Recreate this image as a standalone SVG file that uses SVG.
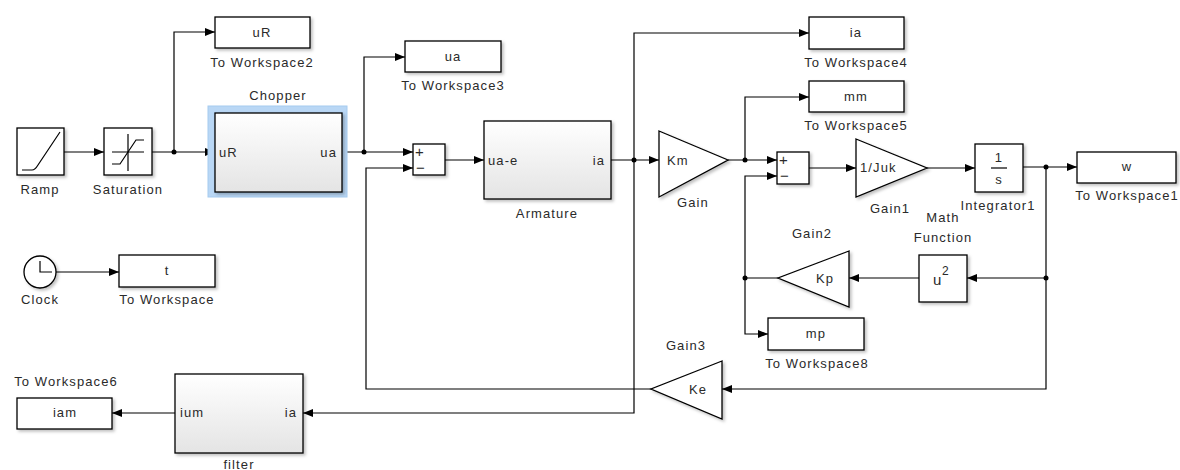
<svg xmlns="http://www.w3.org/2000/svg" width="1180" height="470" viewBox="0 0 1180 470">
<style>
text{font-family:"Liberation Sans",Arial,sans-serif;font-size:13px;fill:#2a2a2a;letter-spacing:1.1px}
.c{text-anchor:middle}
.e{text-anchor:end}
.blk{fill:#fff;stroke:#000;stroke-width:1.3;filter:url(#sh)}
.sub{fill:url(#g);stroke:#000;stroke-width:1.3;filter:url(#sh)}
.ic{fill:none;stroke:#000;stroke-width:1.2}
.ar{fill:none;stroke:#000;stroke-width:1.2;marker-end:url(#ah)}
.dot{fill:#000}
.sg{font-size:15px;letter-spacing:0}
</style>
<defs>
<marker id="ah" markerUnits="userSpaceOnUse" markerWidth="10" markerHeight="10" refX="10" refY="5" orient="auto">
<path d="M0,1 L10,5 L0,9 z" fill="#000"/>
</marker>
<linearGradient id="g" x1="0" y1="0" x2="0" y2="1">
<stop offset="0" stop-color="#ffffff"/>
<stop offset="1" stop-color="#e4e4e4"/>
</linearGradient>
<filter id="sh" x="-10%" y="-10%" width="130%" height="140%">
<feDropShadow dx="2" dy="2" stdDeviation="1.5" flood-color="#000" flood-opacity="0.25"/>
</filter>
</defs>
<rect width="1180" height="470" fill="#fff"/>

<g id="connectors">
<path class="ar" d="M64,152 L104,152"/>
<path class="ar" d="M152,152 L215,152"/>
<path class="ar" d="M174,152 L174,32 L215,32"/>
<path class="ar" d="M342,152 L413,152"/>
<path class="ar" d="M364,152 L364,57 L405,57"/>
<path class="ar" d="M445,160 L484,160"/>
<path class="ar" d="M611,160 L659,160"/>
<path class="ar" d="M634,160 L634,33 L809,33"/>
<path class="ar" d="M634,160 L634,413 L303,413"/>
<path class="ar" d="M175,413 L112,413"/>
<path class="ar" d="M728,160 L777,160"/>
<path class="ar" d="M745,160 L745,97 L809,97"/>
<path class="ar" d="M809,168 L856,168"/>
<path class="ar" d="M927,168 L975,168"/>
<path class="ar" d="M1023,167 L1077,167"/>
<path class="ar" d="M1046,167 L1046,389 L722,389"/>
<path class="ar" d="M1046,278 L967,278"/>
<path class="ar" d="M919,278 L849,278"/>
<path class="ar" d="M778,278 L745,278 L745,176 L777,176"/>
<path class="ar" d="M745,278 L745,334 L768,334"/>
<path class="ar" d="M651,389 L366,389 L366,168 L413,168"/>
<path class="ar" d="M56,272 L119,272"/>
<circle class="dot" cx="174" cy="152" r="2.5"/>
<circle class="dot" cx="364" cy="152" r="2.5"/>
<circle class="dot" cx="634" cy="160" r="2.5"/>
<circle class="dot" cx="745" cy="160" r="2.5"/>
<circle class="dot" cx="1046" cy="167" r="2.5"/>
<circle class="dot" cx="1046" cy="278" r="2.5"/>
<circle class="dot" cx="745" cy="278" r="2.5"/>
</g>

<g id="ramp">
<rect class="blk" x="17" y="128" width="47" height="47"/>
<path class="ic" d="M22,170 L32,170 Q35,170 38,165 L60,132"/>
<text class="c" x="40" y="194">Ramp</text>
</g>

<g id="saturation">
<rect class="blk" x="104" y="128" width="48" height="47"/>
<path class="ic" d="M112,152 L144,152 M128,134 L128,171"/>
<path class="ic" d="M112,164 L120,164 L136,140 L144,140"/>
<text class="c" x="128" y="194">Saturation</text>
</g>

<g id="toworkspace2">
<rect class="blk" x="215" y="17" width="95" height="31"/>
<text class="c" x="262" y="37">uR</text>
<text class="c" x="262" y="67">To Workspace2</text>
</g>

<g id="chopper">
<rect x="208" y="106" width="139" height="91" fill="#b9d7f5" stroke="#a6cbef" stroke-width="1"/>
<rect class="sub" x="215" y="113" width="127" height="79"/>
<text x="219" y="157">uR</text>
<text class="e" x="337" y="157">ua</text>
<text class="c" x="278" y="100">Chopper</text>
</g>

<g id="toworkspace3">
<rect class="blk" x="405" y="41" width="96" height="31"/>
<text class="c" x="453" y="61">ua</text>
<text class="c" x="453" y="90">To Workspace3</text>
</g>

<g id="sum1">
<rect class="blk" x="413" y="144" width="32" height="31"/>
<text class="sg" x="415" y="157">+</text>
<text class="sg" x="416" y="173">−</text>
</g>

<g id="armature">
<rect class="sub" x="484" y="121" width="127" height="78"/>
<text x="488" y="165">ua-e</text>
<text class="e" x="605" y="165">ia</text>
<text class="c" x="547" y="218">Armature</text>
</g>

<g id="toworkspace4">
<rect class="blk" x="809" y="17" width="95" height="32"/>
<text class="c" x="856" y="37">ia</text>
<text class="c" x="856" y="67">To Workspace4</text>
</g>

<g id="gain">
<path class="blk" d="M659,131 L728,160 L659,197 z"/>
<text x="667" y="165">Km</text>
<text class="c" x="693" y="207">Gain</text>
</g>

<g id="toworkspace5">
<rect class="blk" x="809" y="81" width="95" height="31"/>
<text class="c" x="856" y="101">mm</text>
<text class="c" x="856" y="130">To Workspace5</text>
</g>

<g id="sum2">
<rect class="blk" x="777" y="152" width="32" height="32"/>
<text class="sg" x="779" y="165">+</text>
<text class="sg" x="780" y="181">−</text>
</g>

<g id="gain1">
<path class="blk" d="M856,139 L927,168 L856,197 z"/>
<text x="860" y="172">1/Juk</text>
<text class="c" x="890" y="213">Gain1</text>
</g>

<g id="integrator1">
<rect class="blk" x="975" y="144" width="48" height="48"/>
<text class="c" x="999" y="162">1</text>
<path class="ic" d="M991,168 L1007,168" stroke-width="1"/>
<text class="c" x="999" y="184">s</text>
<text class="c" x="998" y="210">Integrator1</text>
</g>

<g id="toworkspace1">
<rect class="blk" x="1077" y="152" width="99" height="31"/>
<text class="c" x="1127" y="171">w</text>
<text class="c" x="1127" y="200">To Workspace1</text>
</g>

<g id="mathfunction">
<rect class="blk" x="919" y="255" width="48" height="47"/>
<text x="933" y="285" style="font-size:15px;letter-spacing:0">u</text>
<text x="942" y="275" style="font-size:12px;letter-spacing:0">2</text>
<text class="c" x="943" y="222">Math</text>
<text class="c" x="943" y="242">Function</text>
</g>

<g id="gain2">
<path class="blk" d="M849,251 L778,278 L849,307 z"/>
<text x="816" y="283">Kp</text>
<text class="c" x="812" y="238">Gain2</text>
</g>

<g id="toworkspace8">
<rect class="blk" x="768" y="318" width="96" height="32"/>
<text class="c" x="816" y="338">mp</text>
<text class="c" x="817" y="368">To Workspace8</text>
</g>

<g id="gain3">
<path class="blk" d="M722,361 L651,389 L722,419 z"/>
<text x="689" y="394">Ke</text>
<text class="c" x="686" y="350">Gain3</text>
</g>

<g id="clock">
<circle cx="40" cy="272" r="16" fill="#fff" stroke="#000" stroke-width="1.3" filter="url(#sh)"/>
<path class="ic" d="M40,261 L40,272 L52,272"/>
<text class="c" x="40" y="304">Clock</text>
</g>

<g id="toworkspace">
<rect class="blk" x="119" y="255" width="96" height="32"/>
<text class="c" x="167" y="275">t</text>
<text class="c" x="167" y="304">To Workspace</text>
</g>

<g id="toworkspace6">
<rect class="blk" x="17" y="398" width="95" height="31"/>
<text class="c" x="65" y="417">iam</text>
<text class="c" x="66" y="386">To Workspace6</text>
</g>

<g id="filter">
<rect class="sub" x="175" y="374" width="128" height="79"/>
<text x="180" y="417">ium</text>
<text class="e" x="297" y="417">ia</text>
<text class="c" x="239" y="469">filter</text>
</g>
</svg>
